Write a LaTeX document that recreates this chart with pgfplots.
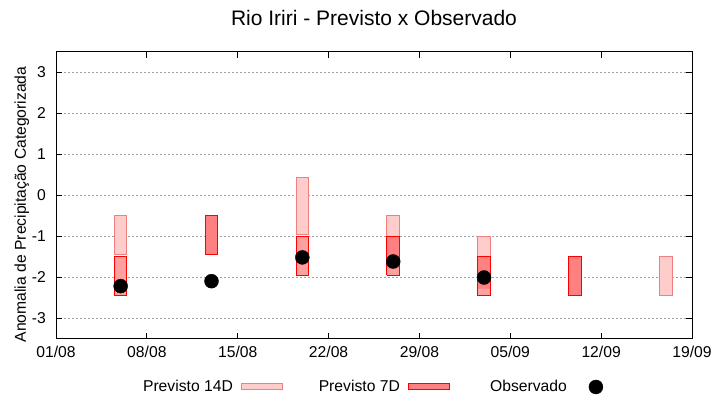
\documentclass[border=0pt]{standalone}
\usepackage{fontspec}
\setmainfont{Liberation Sans}
\usepackage{pgfplots}
\usepackage{pgfplotstable}
\pgfplotsset{compat=1.18}

\definecolor{p14fill}{HTML}{FFCCCC}
\definecolor{p14line}{HTML}{F08080}
\definecolor{p7fill}{HTML}{FF8080}
\definecolor{p7line}{HTML}{FF0000}
\definecolor{p7light}{HTML}{FFA0A0}
\definecolor{gridgray}{HTML}{A0A0A0}

\newcommand{\lbl}{\fontsize{15.7bp}{18bp}\selectfont}

\pgfplotsset{
    boxlegend/.style={legend image code/.code={%
        \draw[##1] (8.5bp,-3bp) rectangle (49bp,3bp); \path (0,0) (71bp,0);}},
    dotlegend/.style={legend image code/.code={%
        \fill[black] (28.8bp,0) circle (7bp); \path (0,0) (71bp,0);}},
}

% x = days since 01/08; each box is a closed outline, boxes split by nan
\pgfplotstableread{
x y
4.5 -1.45
5.46 -1.45
5.46 -0.5
4.5 -0.5
4.5 -1.45
nan nan
18.5 -0.95
19.46 -0.95
19.46 0.45
18.5 0.45
18.5 -0.95
nan nan
25.5 -1.0
26.46 -1.0
26.46 -0.5
25.5 -0.5
25.5 -1.0
nan nan
32.5 -1.5
33.46 -1.5
33.46 -1.0
32.5 -1.0
32.5 -1.5
nan nan
46.5 -2.45
47.46 -2.45
47.46 -1.5
46.5 -1.5
46.5 -2.45
}\prevquatorze

\pgfplotstableread{
x y
4.5 -2.45
5.46 -2.45
5.46 -1.5
4.5 -1.5
4.5 -2.45
nan nan
11.5 -1.45
12.46 -1.45
12.46 -0.5
11.5 -0.5
11.5 -1.45
nan nan
18.5 -1.95
19.46 -1.95
19.46 -1.0
18.5 -1.0
18.5 -1.95
nan nan
25.5 -1.95
26.46 -1.95
26.46 -1.0
25.5 -1.0
25.5 -1.95
nan nan
32.5 -2.45
33.46 -2.45
33.46 -1.5
32.5 -1.5
32.5 -2.45
nan nan
39.5 -2.45
40.46 -2.45
40.46 -1.5
39.5 -1.5
39.5 -2.45
}\prevsete

% lighter parts of the 7D boxes
\pgfplotstableread{
x y
4.5 -2.45
5.46 -2.45
5.46 -1.5
4.5 -1.5
4.5 -2.45
nan nan
18.5 -1.95
19.46 -1.95
19.46 -1.0
18.5 -1.0
18.5 -1.95
nan nan
25.5 -1.95
26.46 -1.95
26.46 -1.78
25.5 -1.78
25.5 -1.95
nan nan
32.5 -2.45
33.46 -2.45
33.46 -2.27
32.5 -2.27
32.5 -2.45
}\prevsetelight

\pgfplotstableread{
x y
4.98 -2.21
11.98 -2.09
18.98 -1.51
25.98 -1.61
32.98 -2.00
}\observado

\begin{document}
\begin{tikzpicture}
\begin{axis}[
    scale only axis,
    width=636bp, height=287bp,
    xmin=0, xmax=49,
    ymin=-3.5, ymax=3.5,
    xtick={0,7,14,21,28,35,42,49},
    xticklabels={01/08,08/08,15/08,22/08,29/08,05/09,12/09,19/09},
    ytick={-3,-2,-1,0,1,2,3},
    yticklabels={-3,-2,-1,0,1,2,3},
    /pgf/number format/assume math mode=true,
    tick align=inside,
    major tick length=6bp,
    tick style={black, line width=1bp},
    axis line style={line width=1bp},
    ymajorgrids,
    grid style={gridgray, line width=0.8bp, dash pattern=on 1.5bp off 2.5bp},
    unbounded coords=jump,
    ticklabel style={font=\lbl},
    xticklabel style={anchor=base, yshift=-19bp, inner sep=0pt},
    yticklabel style={anchor=east, xshift=-10bp, inner sep=0pt},
    ylabel={Anomalia de Precipitação Categorizada},
    ylabel style={font=\lbl, at={(axis description cs:-0.0472,0.469)}, anchor=base, inner sep=0pt},
    title={Rio Iriri - Previsto x Observado},
    title style={font=\fontsize{21bp}{24bp}\selectfont, at={(0.5,1)}, anchor=base, yshift=21bp, inner sep=0pt},
    legend columns=3,
    legend plot pos=right,
    legend style={draw=none, fill=none, font=\lbl, at={(0.1285,-0.1672)}, anchor=west,
        inner sep=0pt, column sep=0pt, nodes={inner sep=0pt}},
]
\addplot[fill=p14fill, draw=p14line, line width=1bp, boxlegend] table {\prevquatorze};
\addlegendentry{\makebox[95bp][r]{Previsto 14D}}

\addplot[fill=p7fill, draw=p7line, line width=1bp, boxlegend] table {\prevsete};
\addlegendentry{\makebox[95bp][r]{Previsto 7D}}

\addplot[fill=p7light, draw=none, forget plot] table {\prevsetelight};
\addplot[fill=none, draw=p7line, line width=1bp, forget plot] table {\prevsete};

\addplot[only marks, mark=*, mark size=7bp, black, dotlegend] table {\observado};
\addlegendentry{\makebox[95bp][r]{Observado}}
\end{axis}
\pgfresetboundingbox
\path ([xshift=-56bp,yshift=-61bp]current axis.south west) rectangle ([xshift=28bp,yshift=52bp]current axis.north east);
\end{tikzpicture}
\end{document}
